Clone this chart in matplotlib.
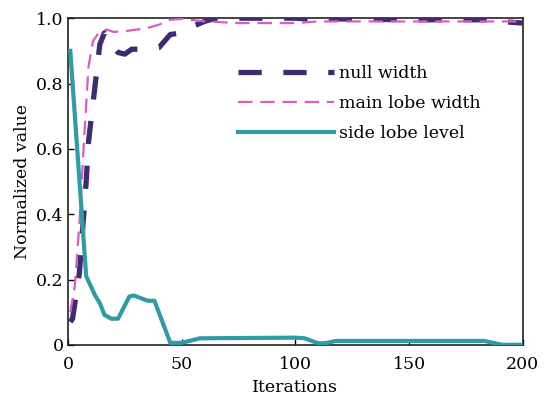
import matplotlib
matplotlib.use("Agg")
import matplotlib.pyplot as plt

# ── Data ─────────────────────────────────────────────────────────
null_x = [1, 2, 5, 8, 9, 12, 14, 16, 19, 22, 25, 28, 35, 40, 45, 50, 55,
          60, 65, 100, 105, 110, 115, 150, 185, 190, 200]
null_y = [0.07, 0.08, 0.22, 0.5, 0.62, 0.8, 0.92, 0.955, 0.92, 0.895, 0.89,
          0.905, 0.905, 0.91, 0.95, 0.955, 0.975, 0.99, 1.0, 1.0, 0.998,
          1.003, 0.998, 0.995, 0.995, 0.99, 0.985]

main_x = [1, 3, 5, 7, 9, 11, 14, 17, 20, 25, 30, 35, 40, 45, 50, 60, 75,
          100, 110, 200]
main_y = [0.1, 0.18, 0.37, 0.62, 0.85, 0.93, 0.96, 0.965, 0.958, 0.96,
          0.965, 0.97, 0.98, 0.995, 0.998, 0.99, 0.985, 0.985, 0.99, 0.99]

side_x = [1, 8, 12, 14, 16, 19, 22, 27, 29, 35, 38, 45, 50, 58, 100, 104,
          110, 113, 118, 183, 191, 200]
side_y = [0.9, 0.21, 0.15, 0.128, 0.092, 0.08, 0.08, 0.148, 0.151, 0.135,
          0.135, 0.006, 0.006, 0.02, 0.022, 0.02, 0.005, 0.005, 0.012,
          0.012, 0.0, 0.0]

x_ticks = [0, 50, 100, 150, 200]
y_ticks = [0, 0.2, 0.4, 0.6, 0.8, 1.0]
y_labels = ["0", "0.2", "0.4", "0.6", "0.8", "1.0"]

# ── Palette ──────────────────────────────────────────────────────
PURPLE = "#3f2b70"
PINK   = "#d85cc3"
TEAL   = "#2f9ba4"

plt.rcParams["font.family"] = ["DejaVu Serif"]
plt.rcParams["font.size"] = 12.5

DPI = 100
fig = plt.figure(figsize=(5.44, 3.95), dpi=DPI)
ax = fig.add_axes([0.125, 0.127, 0.836, 0.827])

ax.plot(null_x, null_y, color=PURPLE, lw=3.8, dashes=(4.4, 4.1),
        label="null width", zorder=3)
ax.plot(main_x, main_y, color=PINK, lw=1.6, dashes=(6.5, 3.5),
        label="main lobe width", zorder=4)
ax.plot(side_x, side_y, color=TEAL, lw=3.0, label="side lobe level",
        zorder=5)

ax.set_xlim(0, 200)
ax.set_ylim(0, 1.0)
ax.set_xticks(x_ticks)
ax.set_yticks(y_ticks)
ax.set_yticklabels(y_labels)
ax.tick_params(direction="in", length=4, width=1, pad=3)
ax.tick_params(axis="x", pad=8)
for s in ax.spines.values():
    s.set_linewidth(1.2)
    s.set_color("#222222")

ax.set_xlabel("Iterations", labelpad=4)
ax.set_ylabel("Normalized value", labelpad=4)

ax.legend(loc="upper left", bbox_to_anchor=(0.34, 0.905), frameon=False,
          handlelength=5.5, handletextpad=0.3, labelspacing=0.75)

fig.savefig("out.png", dpi=DPI)
